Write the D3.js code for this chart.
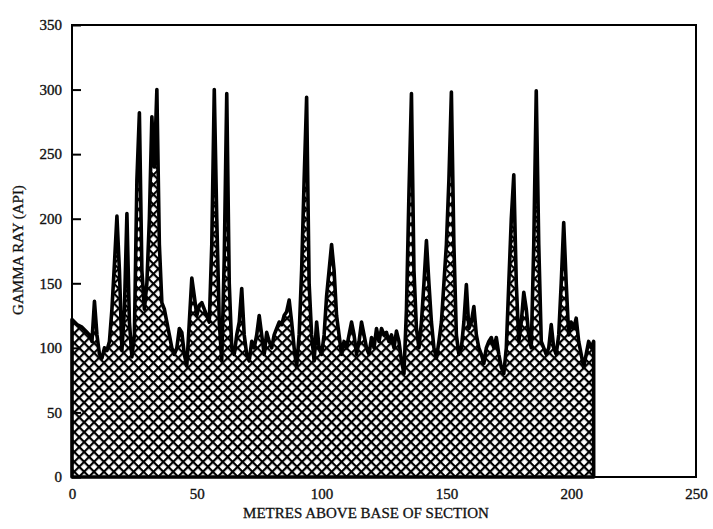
<!DOCTYPE html>
<meta charset="utf-8">
<head>
<style>
  body { margin: 0; background: #fff; }
  svg { display: block; }
  .lbl { font-family: 'Liberation Serif', 'DejaVu Serif', serif; font-size: 15px; fill: #111; stroke: #111; stroke-width: 0.3; }
  .tick text { font-family: 'Liberation Serif', serif; font-size: 15px; fill: #111; stroke: #111; stroke-width: 0.35; }
</style>
</head>
<body>
<svg id="chart" width="713" height="529"></svg>
<script src="https://d3js.org/d3.v7.min.js"></script>
<script>

// gamma ray reading every metre, 0..209 m above base
var metres = d3.range(0, 210);
var gamma = [
  122,120,118,117,116,114,112,110,105,136,
  110, 95, 92,100, 98,105,130,165,202,160,
   98,130,204,120, 93,110,230,282,160,130,
  150,200,279,240,300,180,135,130,120,110,
  100, 95,100,115,112, 95, 86,120,154,140,
  125,133,135,130,125,120,180,300,200,120,
   90,170,297,150,100, 95,110,120,146,110,
   95, 90,105,100,110,125,110, 95,112,105,
  100,110,115,120,118,125,128,137,120,100,
   85,110,160,230,294,150,110, 90,120,100,
   95,110,140,160,180,160,125,110, 95,105,
  100,110,120,110, 95,105,120,110,100, 95,
  108,100,115,105,115,110,112,105,110,100,
  113,105, 90, 80,130,220,297,160,115,100,
  120,150,183,150,120,100, 92,105,120,150,
  180,230,298,180,110, 95,100,120,149,115,
  120,132,110,100, 95, 88,100,105,108,100,
  108, 95, 85, 80,100,150,200,234,150,105,
  120,143,130,110,100,180,299,180,105,100,
   95,100,118,100, 95,110,150,197,150,110,
  120,115,123,105, 95, 85, 95,105,100,105
];
var xTicks = [0, 50, 100, 150, 200, 250];
var yTicks = [0, 50, 100, 150, 200, 250, 300, 350];

var svg = d3.select("#chart");
var L = 72, R = 696, T = 25, B = 477;

var x = d3.scaleLinear().domain([0, 250]).range([L, R]);
var y = d3.scaleLinear().domain([0, 350]).range([B, T]);

// cross hatch
var defs = svg.append("defs");
var pat = defs.append("pattern")
  .attr("id", "hatch")
  .attr("patternUnits", "userSpaceOnUse")
  .attr("width", 7).attr("height", 7)
  .attr("patternTransform", "rotate(45)");
pat.append("rect").attr("width", 7).attr("height", 7).attr("fill", "#fff");
pat.append("line").attr("x1", 0).attr("y1", 0).attr("x2", 7).attr("y2", 0)
   .attr("stroke", "#000").attr("stroke-width", 4.4);
pat.append("line").attr("x1", 0).attr("y1", 0).attr("x2", 0).attr("y2", 7)
   .attr("stroke", "#000").attr("stroke-width", 4.4);

var data = metres.map(function (m, i) { return {m: m, g: gamma[i]}; });

var area = d3.area()
  .x(function (d) { return x(d.m); })
  .y0(y(0))
  .y1(function (d) { return y(d.g); });

svg.append("path")
  .datum(data)
  .attr("d", area)
  .attr("fill", "url(#hatch)")
  .attr("stroke", "#000")
  .attr("stroke-width", 3.6)
  .attr("stroke-linejoin", "round");

// frame
svg.append("rect")
  .attr("x", L).attr("y", T)
  .attr("width", R - L).attr("height", B - T)
  .attr("fill", "none").attr("stroke", "#000").attr("stroke-width", 2);

// axes (inside ticks)
var yAxis = svg.append("g")
  .attr("transform", "translate(" + L + ",0)")
  .call(d3.axisLeft(y).tickValues(yTicks).tickSize(-9).tickPadding(10).tickFormat(d3.format("d")));
yAxis.select(".domain").remove();
yAxis.selectAll("line").attr("stroke", "#000").attr("stroke-width", 2);

var xAxis = svg.append("g")
  .attr("transform", "translate(0," + B + ")")
  .call(d3.axisBottom(x).tickValues(xTicks).tickSize(0).tickPadding(11).tickFormat(d3.format("d")));
xAxis.select(".domain").remove();

svg.append("text")
  .attr("class", "lbl")
  .attr("x", 366).attr("y", 518)
  .attr("text-anchor", "middle")
  .text("METRES ABOVE BASE OF SECTION");

svg.append("text")
  .attr("class", "lbl")
  .attr("transform", "translate(23,250) rotate(-90)")
  .attr("text-anchor", "middle")
  .text("GAMMA RAY (API)");

</script>
</body>
